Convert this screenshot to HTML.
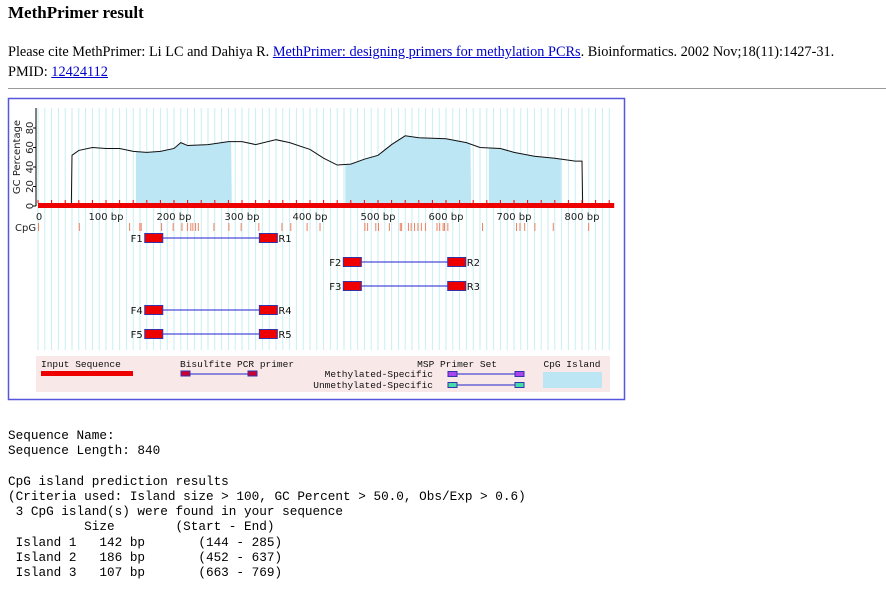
<!DOCTYPE html>
<html><head><meta charset="utf-8"><style>
body{margin:0;width:886px;height:599px;background:#fff;position:relative;overflow:hidden;font-family:"Liberation Serif",serif;color:#000}
.a{position:absolute;white-space:pre}
h1{position:absolute;left:8px;top:3px;margin:0;font-size:17px;font-weight:bold}
a{color:#00c;text-decoration:underline}
.m{font-family:"Liberation Mono",monospace;font-size:12.7px;position:absolute;left:8px;white-space:pre}
</style></head><body>
<h1>MethPrimer result</h1>
<div class="a" style="left:8px;top:44px;font-size:14.3px">Please cite MethPrimer: Li LC and Dahiya R. <a>MethPrimer: designing primers for methylation PCRs</a>. Bioinformatics. 2002 Nov;18(11):1427-31.</div>
<div class="a" style="left:8px;top:64px;font-size:14.3px">PMID: <a>12424112</a></div>
<div style="position:absolute;left:8px;top:88px;width:878px;border-top:1px solid #999"></div>
<svg id="chart" style="position:absolute;left:0;top:0" width="886" height="420"></svg>
<div class="m" style="top:428px">Sequence Name:</div>
<div class="m" style="top:443px">Sequence Length: 840</div>
<div class="m" style="top:474px">CpG island prediction results</div>
<div class="m" style="top:489px">(Criteria used: Island size &gt; 100, GC Percent &gt; 50.0, Obs/Exp &gt; 0.6)</div>
<div class="m" style="top:504px"> 3 CpG island(s) were found in your sequence</div>
<div class="m" style="top:519px">          Size        (Start - End)</div>
<div class="m" style="top:535px"> Island 1   142 bp       (144 - 285)</div>
<div class="m" style="top:550px"> Island 2   186 bp       (452 - 637)</div>
<div class="m" style="top:565px"> Island 3   107 bp       (663 - 769)</div>
<script>
const seqLength=840;
const gcPos=[0,49,50,60,80,100,120,140,160,180,200,210,220,250,280,300,320,350,370,400,420,440,460,480,500,520,540,560,600,630,650,680,700,730,760,790,800,801,840];
const gcVal=[0,0,52,57,60,59,59,56,55,56,59,65,62,63,66,66,63,68,65,58,49,42,43,48,52,63,72,70,69,65,60,59,55,51,49,46,46,0,0];
const islands=[[144,285],[452,637],[663,769]];
const cpgSites=[0,60,134,149,151,181,198,211,219,224,227,231,235,258,280,298,324,358,371,395,414,480,484,496,500,516,532,534,544,548,553,558,563,569,586,590,595,597,602,653,703,708,715,730,757,809];
const primers=[["F1","R1",157,352],["F2","R2",449,629],["F3","R3",449,629],["F4","R4",157,352],["F5","R5",157,352]];
const primerRows=[0,1,2,3,4];
const xTicks=[0,100,200,300,400,500,600,700,800];
const yTicks=[0,20,40,60,80];
const NS="http://www.w3.org/2000/svg";
const svg=document.getElementById('chart');
const X=bp=>38+bp*0.68;
const Y=v=>206-v*0.975;
function mk(t,at,name,parent){const e=document.createElementNS(NS,t);for(const k in at)e.setAttribute(k,at[k]);


(parent||svg).appendChild(e);return e;}
mk('rect',{x:8.5,y:98.5,width:616,height:301,fill:'#fff',stroke:'#5555dd','stroke-width':1.5},'chart-frame');
for(let b=0;b<=840;b+=10){mk('line',{x1:X(b),x2:X(b),y1:108,y2:350,stroke:'#c6eef3','stroke-width':1},'grid-line');}
islands.forEach(r=>{const pts=[];pts.push(X(r[0])+','+Y(0));
for(let b=r[0];b<=r[1];b+=2){let v=0;for(let i=0;i<gcPos.length-1;i++){if(b>=gcPos[i]&&b<=gcPos[i+1]){v=gcVal[i]+(gcVal[i+1]-gcVal[i])*(b-gcPos[i])/(gcPos[i+1]-gcPos[i]);break;}}pts.push(X(b)+','+Y(v));}
pts.push(X(r[1])+','+Y(0));mk('polygon',{points:pts.join(' '),fill:'#bde6f5'},'cpg-island');});
mk('polyline',{points:gcPos.map((p,i)=>X(p)+','+Y(gcVal[i])).join(' '),fill:'none',stroke:'#111','stroke-width':1},'gc-line');
mk('rect',{x:X(0),y:203,width:X(seqLength)+5-X(0),height:5,fill:'#ee0000'},'input-sequence-bar');
for(let b=0;b<=840;b+=20){mk('line',{x1:X(b),x2:X(b),y1:200,y2:203,stroke:'#ee0000'},'bar-tick');}
mk('line',{x1:36,x2:36,y1:108,y2:206,stroke:'#000'},'y-axis');
yTicks.forEach(v=>{mk('line',{x1:33,x2:36,y1:Y(v),y2:Y(v),stroke:'#000'},'y-tick');
const t=mk('text',{x:30,y:Y(v)+3,'font-size':10,'font-family':'DejaVu Sans,sans-serif',transform:`rotate(-90 30 ${Y(v)})`,'text-anchor':'middle',fill:'#222'},'y-tick-label');t.textContent=v;});
const yt=mk('text',{x:20,y:157,'font-size':10,'font-family':'DejaVu Sans,sans-serif','text-anchor':'middle',transform:'rotate(-90 20 157)',fill:'#222'},'y-axis-title');yt.textContent='GC Percentage';
xTicks.forEach(v=>{const t=mk('text',{x:X(v)+(v===0?1:0),y:220,'font-size':10,'font-family':'DejaVu Sans,sans-serif','text-anchor':'middle',fill:'#222'},'x-tick-label');t.textContent=v===0?'0':v+'  bp';});
const cl=mk('text',{x:15,y:231,'font-size':10,'font-family':'DejaVu Sans,sans-serif',fill:'#222'},'cpg-label');cl.textContent='CpG';
cpgSites.forEach(b=>mk('line',{x1:X(b)+0.5,x2:X(b)+0.5,y1:223,y2:231,stroke:'#f08060'},'cpg-site'));
primerRows.forEach(i=>{const p=primers[i];const y=238+i*24;
mk('line',{x1:X(p[2]),x2:X(p[3]),y1:y,y2:y,stroke:'#2222cc'},'primer-link');
mk('rect',{x:X(p[2]),y:y-4.5,width:18,height:9,fill:'#ee0000',stroke:'#3333aa'},'primer-'+p[0].toLowerCase());
mk('rect',{x:X(p[3])-18,y:y-4.5,width:18,height:9,fill:'#ee0000',stroke:'#3333aa'},'primer-'+p[1].toLowerCase());
let t=mk('text',{x:X(p[2])-2,y:y+4,'font-size':10,'font-family':'DejaVu Sans,sans-serif','text-anchor':'end',fill:'#111'},'primer-label');t.textContent=p[0];
t=mk('text',{x:X(p[3])+1,y:y+4,'font-size':10,'font-family':'DejaVu Sans,sans-serif',fill:'#111'},'primer-label');t.textContent=p[1];});
const lg=mk('g',{},'legend');
mk('rect',{x:36,y:356,width:574,height:36,fill:'#f8e8e8'},'legend-box',lg);
const lt=(x,y,s,n,a)=>{const t=mk('text',{x:x,y:y,'font-size':9.5,'font-family':'Liberation Mono,monospace','text-anchor':a||'start',fill:'#111'},n,lg);t.textContent=s;};
lt(41,367,'Input Sequence','legend-input-label');
mk('rect',{x:41,y:371,width:92,height:5,fill:'#ee0000'},'legend-input-bar',lg);
lt(180,367,'Bisulfite PCR primer','legend-bisulfite-label');
mk('line',{x1:186,x2:252,y1:374,y2:374,stroke:'#2222cc'},'legend-bisulfite-line',lg);
mk('rect',{x:181,y:371,width:9,height:5,fill:'#cc0033',stroke:'#3333aa'},'legend-bisulfite-f',lg);
mk('rect',{x:248,y:371,width:9,height:5,fill:'#cc0033',stroke:'#3333aa'},'legend-bisulfite-r',lg);
lt(497,367,'MSP Primer Set','legend-msp-label','end');
lt(433,377,'Methylated-Specific','legend-methylated-label','end');
lt(433,388,'Unmethylated-Specific','legend-unmethylated-label','end');
[[374,'#aa44ee','methylated'],[385,'#44ddaa','unmethylated']].forEach(r=>{mk('line',{x1:452,x2:520,y1:r[0],y2:r[0],stroke:'#2222cc'},'legend-'+r[2]+'-line',lg);
mk('rect',{x:448,y:r[0]-2.5,width:9,height:5,fill:r[1],stroke:'#3333aa'},'legend-'+r[2]+'-f',lg);
mk('rect',{x:515,y:r[0]-2.5,width:9,height:5,fill:r[1],stroke:'#3333aa'},'legend-'+r[2]+'-r',lg);});
lt(572,367,'CpG Island','legend-island-label','middle');
mk('rect',{x:543,y:372,width:59,height:16,fill:'#bde6f5'},'legend-island-swatch',lg);
</script>
</body></html>
